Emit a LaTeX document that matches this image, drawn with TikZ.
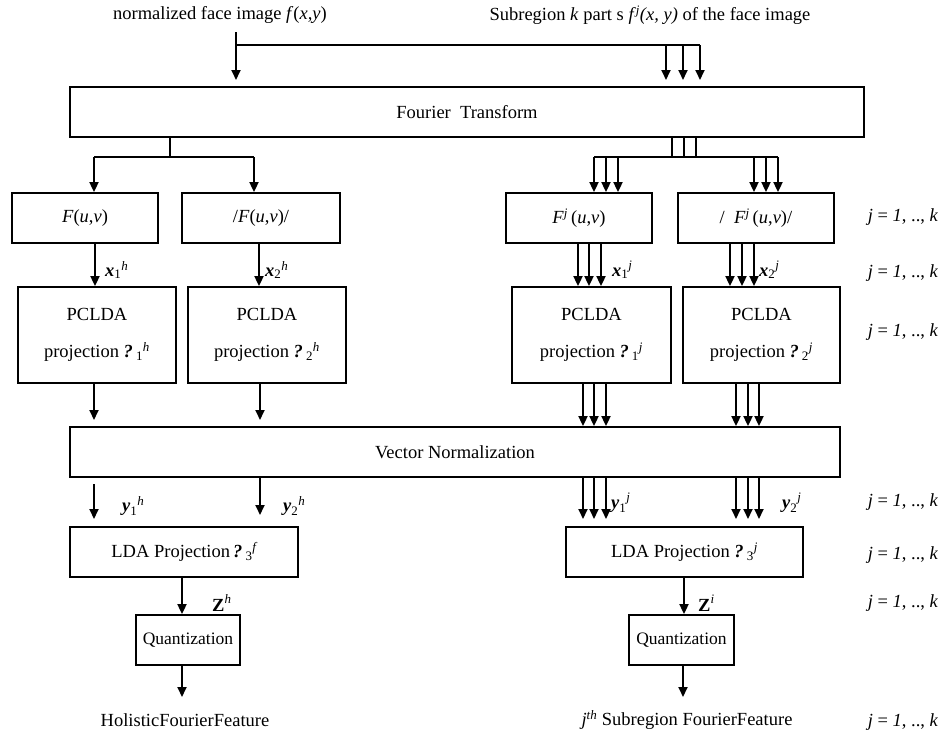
\documentclass[tikz,border=0pt]{standalone}
\usepackage{fontspec}
\usepackage{amsmath}
\setmainfont{Liberation Serif}
\usetikzlibrary{arrows.meta}
\begin{document}
\begin{tikzpicture}[x=1pt,y=-1pt,
  every node/.style={font=\fontsize{18.5}{22}\selectfont},
  box/.style={draw,line width=1.8pt,inner sep=0pt,align=center,minimum height=50pt},
  arr/.style={line width=1.8pt,-{Triangle[length=10pt,width=9pt]}},
  ln/.style={line width=1.8pt},
  lbl/.style={inner sep=0pt,anchor=west},
  qfont/.style={font=\fontsize{17.5}{20}\selectfont}]
\useasboundingbox (0,0) rectangle (948,744);

% top texts
\node (t1) at (220,15) {normalized face image \textit{f}(\textit{x,y})};
\node (t2) at (650,15) {Subregion \textit{k} part s \textit{f}$^{\textit{j}}$\textit{(x, y)} of the face image};

% boxes
\node[box,minimum width=794pt] (ft) at (467,112) {Fourier\ \ Transform};
\node[box,minimum width=146pt] (b1) at (85,218) {\textit{F}(\textit{u},\textit{v})};
\node[box,minimum width=158pt] (b2) at (261,218) {/\textit{F}(\textit{u},\textit{v})/};
\node[box,minimum width=146pt] (b3) at (579,218) {\textit{F}$^{\textit{j}}$\,(\textit{u},\textit{v})};
\node[box,minimum width=156pt] (b4) at (756,218) {/\ \ \textit{F}$^{\textit{j}}$\,(\textit{u},\textit{v})/};

\node[box,minimum width=158pt,minimum height=96pt] (p1) at (97,335) {PCLDA\\[15pt]projection \textbf{\textit{?}}\,${}_{\text{1}}{}^{\textit{h}}$};
\node[box,minimum width=158pt,minimum height=96pt] (p2) at (267,335) {PCLDA\\[15pt]projection \textbf{\textit{?}}\,${}_{\text{2}}{}^{\textit{h}}$};
\node[box,minimum width=159pt,minimum height=96pt] (p3) at (591.5,335) {PCLDA\\[15pt]projection \textbf{\textit{?}}\,${}_{\text{1}}{}^{\textit{j}}$};
\node[box,minimum width=157pt,minimum height=96pt] (p4) at (761.5,335) {PCLDA\\[15pt]projection \textbf{\textit{?}}\,${}_{\text{2}}{}^{\textit{j}}$};

\node[box,minimum width=770pt] (vn) at (455,452) {Vector Normalization};

\node[box,minimum width=228pt] (l1) at (184,552) {LDA Projection\,\textbf{\textit{?}}\,${}_{\text{3}}{}^{\textit{f}}$};
\node[box,minimum width=237pt] (l2) at (684.5,552) {LDA Projection \textbf{\textit{?}}\,${}_{\text{3}}{}^{\textit{j}}$};

\node[box,qfont,minimum width=104pt] (q1) at (188,640) {Quantization};
\node[box,qfont,minimum width=105pt] (q2) at (681.5,640) {Quantization};

\node (o1) at (185,720) {HolisticFourierFeature};
\node (o2) at (687,720) {\textit{j}$^{\textit{th}}$ Subregion FourierFeature};

% j = 1..k labels
\foreach \y/\n in {217/1,273/2,332/3,502/4,555/5,603/6,722/7}
  \node (jk\n) at (903,\y) {\textit{j} = \textit{1}, .., \textit{k}};

% edge labels
\node[lbl] (lx1h) at (105,270) {$\textbf{\textit{x}}_{\text{1}}{}^{\textit{h}}$};
\node[lbl] (lx2h) at (265,270) {$\textbf{\textit{x}}_{\text{2}}{}^{\textit{h}}$};
\node[lbl] (lx1j) at (612,270) {$\textbf{\textit{x}}_{\text{1}}{}^{\textit{j}}$};
\node[lbl] (lx2j) at (759,270) {$\textbf{\textit{x}}_{\text{2}}{}^{\textit{j}}$};
\node[lbl] (ly1h) at (122,506) {$\textbf{\textit{y}}_{\text{1}}{}^{\textit{h}}$};
\node[lbl] (ly2h) at (283,506) {$\textbf{\textit{y}}_{\text{2}}{}^{\textit{h}}$};
\node[lbl] (ly1j) at (611,503) {$\textbf{\textit{y}}_{\text{1}}{}^{\textit{j}}$};
\node[lbl] (ly2j) at (782,503) {$\textbf{\textit{y}}_{\text{2}}{}^{\textit{j}}$};
\node[lbl] (lzh) at (212,603) {$\textbf{Z}^{\textit{h}}$};
\node[lbl] (lzi) at (698,603) {$\textbf{Z}^{\textit{i}}$};

% coordinates
\coordinate (s1) at (236,32);
\coordinate (bus) at (236,45);
\coordinate (busE) at (700,45);
\coordinate (ftin) at (0,80);
\coordinate (fl) at (170,157);
\coordinate (vnin) at (0,420);
\coordinate (vnout) at (0,484);
\coordinate (ldain) at (0,519);
\coordinate (ldain2) at (0,515);
\coordinate (oend) at (0,697);

% top connectors
\draw[arr] (s1) -- (s1 |- ftin);
\draw[ln] (bus) -- (busE);
\foreach \x in {666,683,700} \draw[arr] (\x,0 |- bus) -- (\x,0 |- ftin);

% FT outputs
\draw[ln] (170,0 |- ft.south) -- (fl);
\draw[ln] (94,0 |- fl) -- (254,0 |- fl);
\draw[arr] (94,0 |- fl) -- (94,0 |- b1.north);
\draw[arr] (254,0 |- fl) -- (254,0 |- b2.north);
\foreach \x in {672,684,696} \draw[ln] (\x,0 |- ft.south) -- (\x,0 |- fl);
\draw[ln] (594,0 |- fl) -- (778,0 |- fl);
\foreach \x in {594,606,618} \draw[arr] (\x,0 |- fl) -- (\x,0 |- b3.north);
\foreach \x in {754,766,778} \draw[arr] (\x,0 |- fl) -- (\x,0 |- b4.north);

% row1 -> PCLDA
\draw[arr] (95,0 |- b1.south) -- (95,0 |- p1.north);
\draw[arr] (259,0 |- b2.south) -- (259,0 |- p2.north);
\foreach \x in {578,589,601} \draw[arr] (\x,0 |- b3.south) -- (\x,0 |- p3.north);
\foreach \x in {730,742,754} \draw[arr] (\x,0 |- b4.south) -- (\x,0 |- p4.north);

% PCLDA -> VN
\draw[arr] (94,0 |- p1.south) -- (94,0 |- vnin);
\draw[arr] (260,0 |- p2.south) -- (260,0 |- vnin);
\foreach \x in {583,594,606} \draw[arr] (\x,0 |- p3.south) -- (\x,0 |- vn.north);
\foreach \x in {736,748,759} \draw[arr] (\x,0 |- p4.south) -- (\x,0 |- vn.north);

% VN -> LDA
\draw[arr] (94,0 |- vnout) -- (94,0 |- ldain);
\draw[arr] (260,0 |- vn.south) -- (260,0 |- ldain2);
\foreach \x in {583,594,606} \draw[arr] (\x,0 |- vn.south) -- (\x,0 |- ldain);
\foreach \x in {736,748,759} \draw[arr] (\x,0 |- vn.south) -- (\x,0 |- ldain);

% LDA -> Quant -> output
\draw[arr] (182,0 |- l1.south) -- (182,0 |- q1.north);
\draw[arr] (684,0 |- l2.south) -- (684,0 |- q2.north);
\draw[arr] (182,0 |- q1.south) -- (182,0 |- oend);
\draw[arr] (683,0 |- q2.south) -- (683,0 |- oend);
\end{tikzpicture}
\end{document}
